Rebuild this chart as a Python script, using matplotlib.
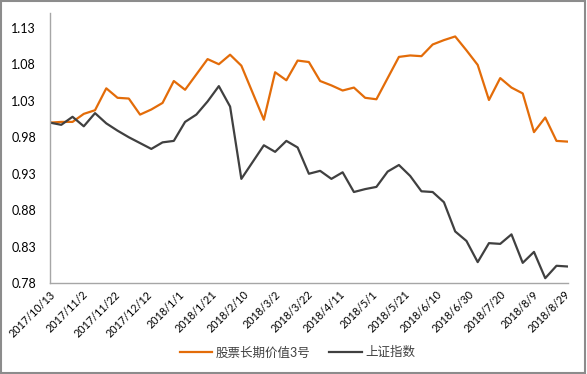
import matplotlib
matplotlib.use('Agg')
import matplotlib.pyplot as plt
import pandas as pd
from matplotlib.patches import Rectangle

plt.rcParams['font.family'] = ['Lato', 'Noto Sans CJK SC', 'DejaVu Sans']

# weekly dates, first point 2017/10/13
dates = pd.date_range('2017-10-13', periods=47, freq='7D')

fund = [1.000, 1.001, 1.001, 1.012, 1.017, 1.047, 1.034, 1.033, 1.011, 1.018,
        1.027, 1.057, 1.045, 1.066, 1.087, 1.080, 1.093, 1.078, 1.041, 1.004,
        1.069, 1.058, 1.085, 1.083, 1.057, 1.051, 1.044, 1.048, 1.034, 1.032,
        1.061, 1.090, 1.092, 1.091, 1.107, 1.113, 1.118, 1.099, 1.079, 1.031,
        1.061, 1.048, 1.040, 0.987, 1.007, 0.975, 0.974]

sse = [1.000, 0.997, 1.008, 0.995, 1.013, 0.999, 0.989, 0.980, 0.972, 0.964,
       0.973, 0.975, 1.001, 1.011, 1.029, 1.050, 1.022, 0.923, 0.946, 0.969,
       0.960, 0.975, 0.966, 0.930, 0.934, 0.923, 0.932, 0.905, 0.909, 0.912,
       0.933, 0.942, 0.927, 0.906, 0.905, 0.891, 0.851, 0.838, 0.809, 0.835,
       0.834, 0.847, 0.808, 0.823, 0.787, 0.804, 0.803]

tick_labels = ['2017/10/13', '2017/11/2', '2017/11/22', '2017/12/12', '2018/1/1',
               '2018/1/21', '2018/2/10', '2018/3/2', '2018/3/22', '2018/4/11',
               '2018/5/1', '2018/5/21', '2018/6/10', '2018/6/30', '2018/7/20',
               '2018/8/9', '2018/8/29']
yticks = [0.78, 0.83, 0.88, 0.93, 0.98, 1.03, 1.08, 1.13]

fig = plt.figure(figsize=(5.87, 3.74), dpi=100)
ax = fig.add_axes([0.0852, 0.2425, 0.882, 0.7225])

ax.plot(dates, fund, color='#E36C09', lw=1.6, label='股票长期价值3号')
ax.plot(dates, sse, color='#404040', lw=1.6, label='上证指数')

ax.set_xlim(dates[0], dates[-1])
ax.set_ylim(0.78, 1.15)
ax.set_yticks(yticks)
ax.set_yticklabels(['%.2f' % v for v in yticks])

tick_dates = pd.to_datetime(tick_labels, format='%Y/%m/%d')
ax.set_xticks(tick_dates)
ax.set_xticklabels(tick_labels, rotation=45, ha='right', rotation_mode='anchor')

for s in ['top', 'right']:
    ax.spines[s].set_visible(False)
for s in ['left', 'bottom']:
    ax.spines[s].set_color('#A6A6A6')
    ax.spines[s].set_linewidth(1.0)
ax.tick_params(axis='both', length=0, colors='#000000')
ax.tick_params(axis='y', labelsize=9, pad=10)
ax.tick_params(axis='x', labelsize=7.8, pad=4)

leg = fig.legend(loc='center', bbox_to_anchor=(0.507, 0.058), ncol=2, frameon=False,
                 fontsize=9, handlelength=2.6, columnspacing=1.5, handletextpad=0.3)
for t in leg.get_texts():
    t.set_color('#404040')

fig.patches.append(Rectangle((0.001, 0.002), 0.996, 0.996, transform=fig.transFigure,
                             fill=False, edgecolor='#8C8C8C', lw=1.5))

fig.savefig('out.png', dpi=100)
